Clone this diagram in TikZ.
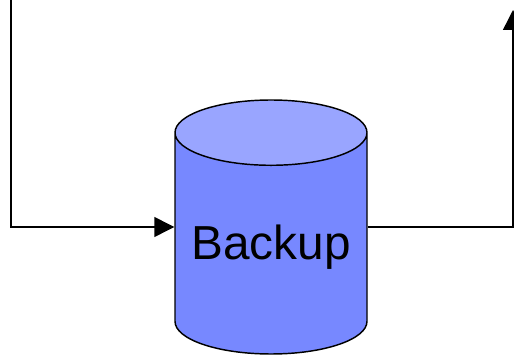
\documentclass[tikz,border=0pt]{standalone}
\usepackage{fontspec}
\setmainfont{Liberation Sans}
\usepackage{xcolor}
\usetikzlibrary{arrows.meta, positioning, shapes.geometric}
\definecolor{BodyBlue}{HTML}{7788FF}
\definecolor{LiteBlue}{HTML}{99A5FF}
\tikzset{%
  store/.style={%
    cylinder,%
    shape border rotate=90,%
    aspect=0.41,%
    draw=black,%
    line width=1.05pt,%
    cylinder uses custom fill,%
    cylinder body fill=BodyBlue,%
    cylinder end fill=LiteBlue,%
    minimum width=1.92in,%
    minimum height=2.54in,%
    inner sep=0pt,%
    font={\fontsize{34.5}{40}\selectfont},%
    align=center%
  },
  signal/.style={%
    color=black,%
    line width=1.05pt,%
    line join=miter%
  },
  arrow/.style={-{Triangle[length=0.20in, width=0.20in]}},
}
\begin{document}
\begin{tikzpicture}[x=1in, y=1in]
    \useasboundingbox (0, 0) rectangle (5.14, 3.55);

    \node [store, anchor=shape center] (Backup) at (2.71, 1.28)
      {\raisebox{-0.03in}[\height][\depth]{Backup}};
    \coordinate (in_start) at (0.11, 3.55);
    \coordinate (in_corner) at (0.11, 1.28);
    \coordinate (out_corner) at (5.13, 1.28);
    \coordinate (out_end) at (5.13, 3.45);

    \draw [arrow, signal]
      (in_start) -- (in_corner) -- (Backup.west |- in_corner);
    \draw [arrow, signal]
      (Backup.east |- out_corner) -- (out_corner) -- (out_end);
\end{tikzpicture}
\end{document}
